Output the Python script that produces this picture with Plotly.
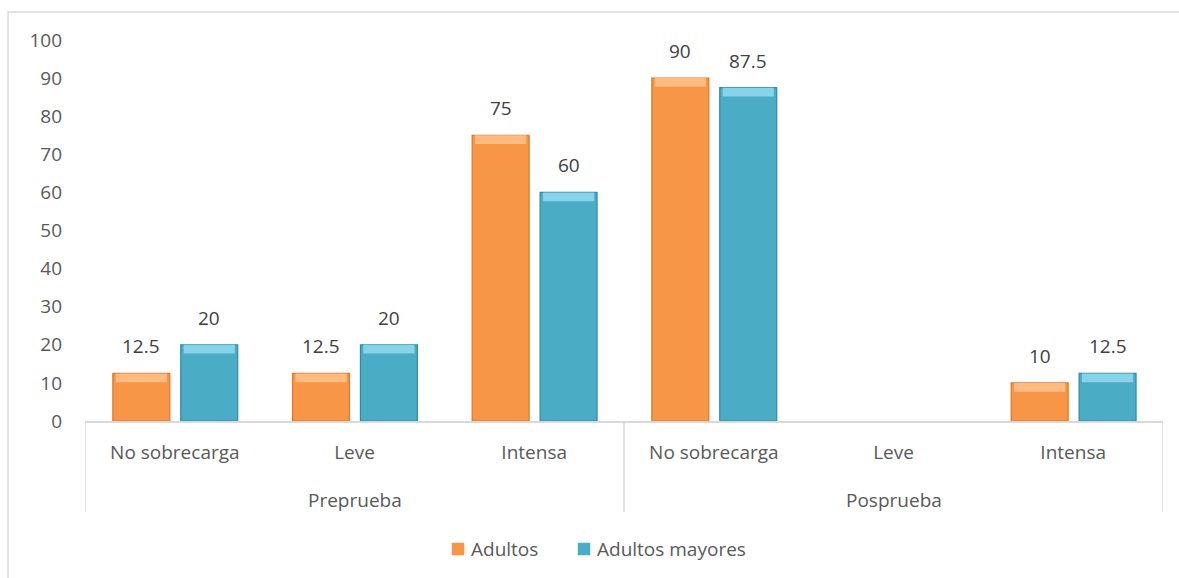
import plotly.graph_objects as go

# Chart data
fases = ["Preprueba", "Posprueba"]
niveles = ["No sobrecarga", "Leve", "Intensa"]
categorias = [f"{n}" for f in fases for n in niveles]
adultos = [12.5, 12.5, 75, 90, None, 10]
adultos_mayores = [20, 20, 60, 87.5, None, 12.5]

series = [
    ("Adultos", adultos, "#F79646", "#FDBB80", "#D9772A", -0.345),
    ("Adultos mayores", adultos_mayores, "#4BACC6", "#86D3EA", "#2F8AA3", 0.033),
]
BAR_W = 0.317
CAP = 2.3  # height of the light bevel band on top of each bar (y units)

FONT = "Open Sans"
FS = 19
TXT = "#595959"
GRID = "#D9D9D9"

PLOT_TOP, PLOT_BOTTOM = 40, 421        # pixel rows of the plotting area
PLOT_H = PLOT_BOTTOM - PLOT_TOP


def py(px):
    """pixel row -> paper y"""
    return (PLOT_BOTTOM - px) / PLOT_H


fig = go.Figure()
pos = list(range(len(categorias)))

for name, vals, body, cap, edge, off in series:
    fig.add_trace(go.Bar(
        x=pos, y=vals, name=name,
        width=BAR_W, offset=off,
        marker=dict(color=body, line=dict(color=edge, width=1.2)),
        hoverinfo="skip",
    ))
    # lighter bevel band along the top of each bar
    fig.add_trace(go.Bar(
        x=pos,
        y=[CAP if v else None for v in vals],
        base=[v - CAP if v else None for v in vals],
        width=BAR_W * 0.9, offset=off + BAR_W * 0.05,
        marker=dict(color=cap, line=dict(width=0)),
        showlegend=False, hoverinfo="skip",
    ))

# value labels above the bars
for name, vals, body, cap, edge, off in series:
    for i, v in enumerate(vals):
        if v:
            fig.add_annotation(
                x=i + off + BAR_W / 2, y=v, xref="x", yref="y",
                text=f"{v:g}", showarrow=False,
                yanchor="bottom", yshift=12,
                font=dict(family=FONT, size=FS, color="#404040"),
            )

# group labels under the category labels
for g, fase in enumerate(fases):
    fig.add_annotation(
        x=g * 3 + 1, y=py(500), xref="x", yref="paper",
        text=fase, showarrow=False, yanchor="middle",
        font=dict(family=FONT, size=FS, color=TXT),
    )

# vertical dividers between the groups
for xd in (-0.5, 2.5, 5.5):
    fig.add_shape(type="line", xref="x", yref="paper",
                  x0=xd, x1=xd, y0=0, y1=py(512),
                  line=dict(color=GRID, width=1.5))

# legend: small swatches with their names
legend_items = [("Adultos", "#F79646", 452, 469), ("Adultos mayores", "#4BACC6", 578, 595)]
for label, col, sx, tx in legend_items:
    fig.add_shape(type="rect", xref="paper", yref="paper",
                  x0=(sx - 85) / 1078, x1=(sx + 12 - 85) / 1078,
                  y0=py(555), y1=py(543),
                  fillcolor=col, line=dict(color=col, width=0.5))
    fig.add_annotation(
        x=(tx - 85) / 1078, y=py(549), xref="paper", yref="paper",
        text=label, showarrow=False, xanchor="left", yanchor="middle",
        font=dict(family=FONT, size=FS, color=TXT),
    )

fig.update_layout(
    width=1179, height=578,
    margin=dict(l=85, r=16, t=PLOT_TOP, b=578 - PLOT_BOTTOM),
    paper_bgcolor="white", plot_bgcolor="white",
    barmode="overlay",
    font=dict(family=FONT, size=FS, color=TXT),
    showlegend=False,
    xaxis=dict(
        range=[-0.5, 5.5],
        tickmode="array", tickvals=pos, ticktext=categorias,
        showline=True, linecolor=GRID, linewidth=1.5,
        ticks="", showgrid=False, zeroline=False,
        ticklabelstandoff=13,
        tickfont=dict(family=FONT, size=FS, color=TXT),
    ),
    yaxis=dict(
        range=[0, 100], dtick=10, showgrid=False, zeroline=False,
        showline=False, ticks="", ticklabelstandoff=22,
        tickfont=dict(family=FONT, size=FS, color=TXT),
    ),
)

# outer chart frame
fig.add_shape(type="rect", xref="paper", yref="paper",
              x0=-0.0714, x1=1.02, y0=-0.45, y1=1.0735,
              line=dict(color=GRID, width=1.5), layer="below")

fig.write_html("out.html")
